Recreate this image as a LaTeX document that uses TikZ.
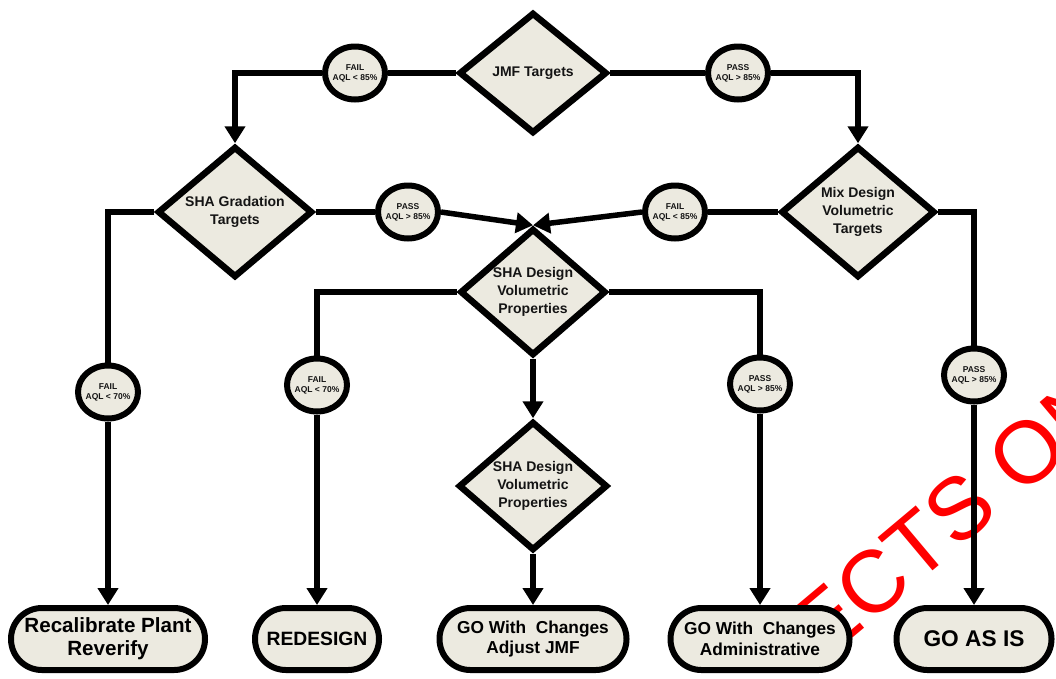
\documentclass[tikz,border=0pt]{standalone}
\usepackage{fontspec}
\setmainfont{Liberation Sans}
\usetikzlibrary{arrows.meta,shapes.geometric}
\definecolor{boxfill}{RGB}{236,234,224}
\definecolor{ink}{RGB}{20,20,20}
\begin{document}
\begin{tikzpicture}[x=1pt,y=-1pt,
  dec/.style={draw=black, shape=diamond, aspect=1.3, fill=boxfill, line width=6.5pt, inner sep=0pt, align=center, text=ink, font=\bfseries\fontsize{14}{18}\selectfont},
  cond/.style={draw=black, shape=ellipse, fill=boxfill, line width=6pt, minimum width=60pt, minimum height=53pt, inner xsep=-3pt, inner ysep=0pt, align=center, text=ink, font=\bfseries\fontsize{8.5}{10}\selectfont},
  term/.style={draw=black, shape=rectangle, rounded corners=30.9pt, fill=boxfill, line width=6pt, minimum height=62pt, inner sep=0pt, align=center, text=black, font=\bfseries\fontsize{17.3}{20.5}\selectfont},
  conn/.style={draw=black, line width=5.5pt},
  arr/.style={conn, -{Triangle[length=17pt,width=20pt]}},
]
\useasboundingbox[fill=white] (0,0) rectangle (1056,678);

% watermark (behind everything)
\begin{scope}
\clip (0,0) rectangle (1056,678);
\node[rotate=40, anchor=base west, text=red, inner sep=0pt, font=\fontsize{88}{88}\selectfont] (wm) at (822,664) {ECTS ON};
\end{scope}

% decisions
\node[dec, minimum width=148pt, minimum height=121pt] (jmf) at (533,73) {JMF Targets};
\node[dec, minimum width=155pt, minimum height=131pt] (grad) at (235,212) {SHA Gradation\\Targets};
\node[dec, minimum width=154pt, minimum height=131pt] (mix) at (858,212) {Mix Design\\Volumetric\\Targets};
\node[dec, minimum width=146pt, minimum height=127pt] (sha1) at (533,292) {SHA Design\\Volumetric\\Properties};
\node[dec, minimum width=149pt, minimum height=129pt] (sha2) at (533,486) {SHA Design\\Volumetric\\Properties};

% conditions
\node[cond] (fail1) at (355,73) {FAIL\\AQL < 85\%};
\node[cond] (pass1) at (738,73) {PASS\\AQL > 85\%};
\node[cond] (pass2) at (408,212) {PASS\\AQL > 85\%};
\node[cond] (fail2) at (675,212) {FAIL\\AQL < 85\%};
\node[cond] (fail3) at (108,392) {FAIL\\AQL < 70\%};
\node[cond] (fail4) at (317,385) {FAIL\\AQL < 70\%};
\node[cond] (pass5) at (760,384) {PASS\\AQL > 85\%};
\node[cond] (pass6) at (974,375) {PASS\\AQL > 85\%};

% terminals
\node[term, minimum width=194pt, font=\bfseries\fontsize{20.6}{23}\selectfont] (recal) at (108,639) {Recalibrate Plant\\Reverify};
\node[term, minimum width=124pt, font=\bfseries\fontsize{19.3}{22}\selectfont] (redesign) at (317,639) {REDESIGN};
\node[term, minimum width=187pt] (adjust) at (533,639) {GO With\ \ Changes\\Adjust JMF};
\node[term, minimum width=179pt] (admin) at (760,639) {GO With\ \ Changes\\Administrative};
\node[term, minimum width=155pt, font=\bfseries\fontsize{22.7}{25}\selectfont] (goasis) at (974,639) {GO AS IS};

% connectors
\draw[conn] (jmf.west) -- (fail1.east);
\draw[arr] (fail1.west) -| (grad.north);
\draw[conn] (jmf.east) -- (pass1.west);
\draw[arr] (pass1.east) -| (mix.north);
\draw[conn] (grad.east) -- (pass2.west);
\draw[arr] (pass2.east) -- (sha1.north);
\draw[conn] (mix.west) -- (fail2.east);
\draw[arr] (fail2.west) -- (sha1.north);
\draw[conn] (grad.west) -| (fail3.north);
\draw[arr] (fail3.south) -- (recal.north);
\draw[conn] (sha1.west) -| (fail4.north);
\draw[arr] (fail4.south) -- (redesign.north);
\draw[conn] (sha1.east) -| (pass5.north);
\draw[arr] (pass5.south) -- (admin.north);
\draw[conn] (mix.east) -| (pass6.north);
\draw[arr] (pass6.south) -- (goasis.north);
\draw[arr] (sha1.south) -- (sha2.north);
\draw[arr] (sha2.south) -- (adjust.north);
\end{tikzpicture}
\end{document}
